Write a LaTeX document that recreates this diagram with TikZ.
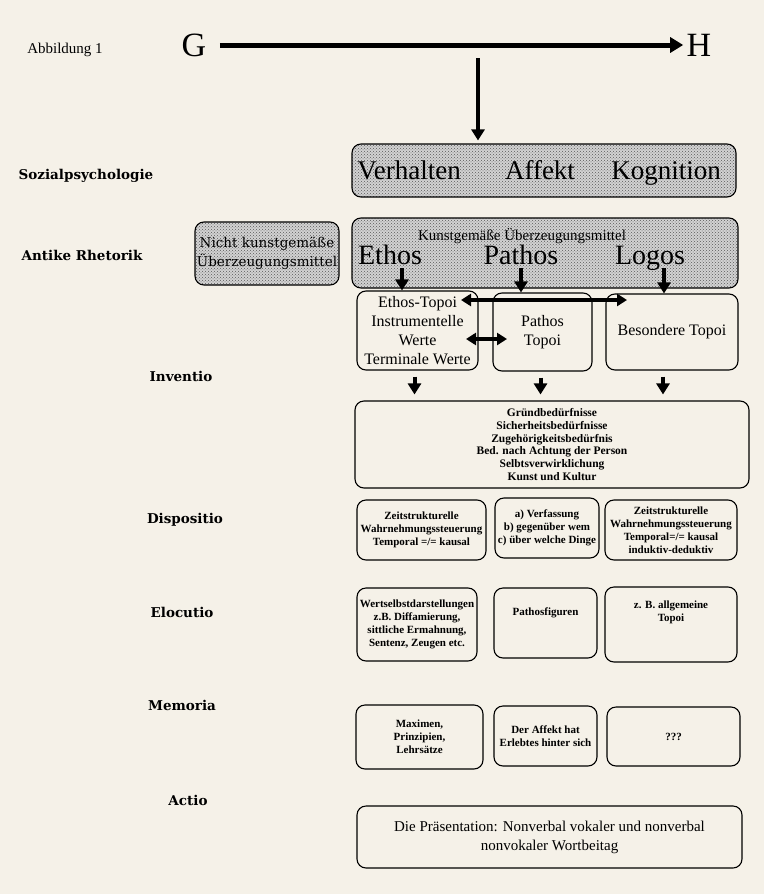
\documentclass[tikz,border=0pt]{standalone}
\usepackage{fontspec}
\setmainfont{Liberation Serif}
\newfontfamily\widefont{DejaVu Serif}
\usetikzlibrary{positioning,arrows.meta,patterns}
\definecolor{paper}{HTML}{F5F1E8}

\begin{document}
\begin{tikzpicture}[x=1pt, y=-1pt,
  box/.style={draw, rounded corners=9pt, line width=1.1pt, align=center, inner sep=1pt},
  dotbox/.style={box, preaction={fill=gray!35}, pattern=crosshatch dots, pattern color=black!65},
  stage/.style={font=\widefont\bfseries\fontsize{13.5}{15}\selectfont},
  word/.style={anchor=base, inner sep=1pt, font=\fontsize{27}{27}\selectfont},
  fine/.style={font=\bfseries\fontsize{11}{13}\selectfont},
  fat/.style={line width=4pt, -{Triangle[width=13pt,length=11pt]}},
  twoway/.style={line width=3.5pt, {Triangle[width=12pt,length=10pt]}-{Triangle[width=12pt,length=10pt]}}]
\fill[paper] (0,0) rectangle (764,894);
\useasboundingbox (0,0) rectangle (764,894);

% Title line
\node (abb) at (65,50) {\fontsize{15}{17}\selectfont Abbildung 1};
\node (g) at (194,45) {\fontsize{34}{34}\selectfont G};
\node (h) at (699,45) {\fontsize{34}{34}\selectfont H};
\coordinate (split) at (478,58);

% Stage labels
\node (sozial) [stage] at (86,176) {Sozialpsychologie};
\node (antike) [stage] at (82,255) {Antike Rhetorik};
\node (inv)    [stage] at (181,376) {Inventio};
\node (dis)    [stage] at (185,520) {Dispositio};
\node (elo)    [stage] at (182,612) {Elocutio};
\node (mem)    [stage] at (182,705) {Memoria};
\node (act)    [stage] at (188,800) {Actio};

% Sozialpsychologie
\node (vak) [dotbox, minimum width=384pt, minimum height=53pt] at (544,170.5) {};
\node (verh) [word] at (409,179) {Verhalten};
\node (aff)  [word] at (540,179) {Affekt};
\node (kog)  [word] at (666,179) {Kognition};

% Antike Rhetorik
\node (nicht) [dotbox, minimum width=144pt, minimum height=63pt, font=\widefont\fontsize{13.5}{19}\selectfont] at (267,253.5) {Nicht kunstgemäße\\Überzeugungsmittel};
\node (kunst) [dotbox, minimum width=386pt, minimum height=70pt] at (545,253) {};
\node (ktitle) [anchor=base, inner sep=1pt, font=\fontsize{15}{15}\selectfont] at (522,240) {Kunstgemäße Überzeugungsmittel};
\node (ethos)  [word, font=\fontsize{28}{28}\selectfont] at (390,264) {Ethos};
\node (pathos) [word, font=\fontsize{28}{28}\selectfont] at (521,264) {Pathos};
\node (logos)  [word, font=\fontsize{28}{28}\selectfont] at (650,264) {Logos};

% Inventio
\node (etopoi) [box, minimum width=121pt, minimum height=79pt, font=\fontsize{16}{19}\selectfont] at (417.5,330.5) {Ethos-Topoi\\Instrumentelle\\Werte\\Terminale Werte};
\node (ptopoi) [box, minimum width=99pt, minimum height=78pt, font=\fontsize{16}{19}\selectfont] at (542.5,332) {Pathos\\Topoi};
\node (btopoi) [box, minimum width=132pt, minimum height=76pt, font=\fontsize{16}{19}\selectfont] at (672,332) {Besondere Topoi};
\coordinate (ea) at (461,300);
\coordinate (ba) at (627,300);
\coordinate (eb) at (466,339);
\coordinate (pb) at (507,339);
\node (needs) [box, minimum width=394pt, minimum height=87pt, font=\bfseries\fontsize{11.5}{12.8}\selectfont] at (552,444.5) {Gründbedürfnisse\\Sicherheitsbedürfnisse\\Zugehörigkeitsbedürfnis\\Bed. nach Achtung der Person\\Selbtsverwirklichung\\Kunst und Kultur};

% Dispositio
\node (dis1) [box, fine, minimum width=129pt, minimum height=60pt] at (421.5,530) {Zeitstrukturelle\\Wahrnehmungssteuerung\\Temporal =/= kausal};
\node (dis2) [box, fine, minimum width=104pt, minimum height=60pt] at (547,528) {a) Verfassung\\b) gegenüber wem\\c) über welche Dinge};
\node (dis3) [box, fine, minimum width=132pt, minimum height=60pt] at (671,530) {Zeitstrukturelle\\Wahrnehmungssteuerung\\Temporal=/= kausal\\induktiv-deduktiv};

% Elocutio
\node (elo1) [box, fine, minimum width=120pt, minimum height=73pt] at (417,624.5) {Wertselbstdarstellungen\\z.B. Diffamierung,\\sittliche Ermahnung,\\Sentenz, Zeugen etc.};
\node (elo2) [box, fine, minimum width=103pt, minimum height=70pt, text depth=22pt] at (545.5,623) {Pathosfiguren};
\node (elo3) [box, fine, minimum width=132pt, minimum height=75pt] at (671,624.5) {z. B. allgemeine\\Topoi\\[14pt]};

% Memoria
\node (mem1) [box, fine, minimum width=127pt, minimum height=64pt] at (419.5,737) {Maximen,\\Prinzipien,\\Lehrsätze};
\node (mem2) [box, fine, minimum width=103pt, minimum height=60pt] at (545.5,736) {Der Affekt hat\\Erlebtes hinter sich};
\node (mem3) [box, fine, minimum width=133pt, minimum height=59pt] at (673.5,736.5) {???};

% Actio
\node (actbox) [box, minimum width=385pt, minimum height=62pt, font=\fontsize{15}{19}\selectfont] at (549.5,837) {Die Präsentation: Nonverbal vokaler und nonverbal\\nonvokaler Wortbeitag};

% Connections
\draw [fat, line width=5pt, -{Triangle[width=15pt,length=13pt]}, shorten <=10pt] (g) -- (h);
\draw [fat, shorten >=3pt] (split) -- (split |- vak.north);
\draw [fat] ([xshift=12pt,yshift=-4pt]ethos.base) -- ([xshift=12pt]ethos.base |- etopoi.north);
\draw [fat] ([yshift=-4pt]pathos.base) -- (pathos.base |- ptopoi.north);
\draw [fat] ([xshift=14pt,yshift=-4pt]logos.base) -- ([xshift=14pt]logos.base |- btopoi.north);
\draw [twoway] (ea) -- (ba);
\draw [twoway] (eb) -- (pb);
\draw [fat, shorten <=6pt, shorten >=6pt] ([xshift=-3pt]etopoi.south) -- ([xshift=-3pt]etopoi.south |- needs.north);
\draw [fat, shorten <=6pt, shorten >=6pt] ([xshift=-2pt]ptopoi.south) -- ([xshift=-2pt]ptopoi.south |- needs.north);
\draw [fat, shorten <=6pt, shorten >=6pt] ([xshift=-9pt]btopoi.south) -- ([xshift=-9pt]btopoi.south |- needs.north);

\end{tikzpicture}
\end{document}
